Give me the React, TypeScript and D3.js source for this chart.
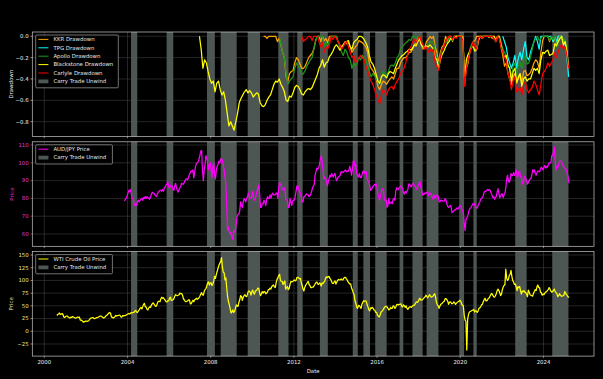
import React from "react";
import * as d3 from "d3";

const W = 603;
const H = 379;

// ---------- data ----------
const yearTicks = [2000, 2004, 2008, 2012, 2016, 2020, 2024];
const ddTicks = [0, -0.2, -0.4, -0.6, -0.8];
const audTicks = [60, 70, 80, 90, 100, 110];
const wtiTicks = [-25, 0, 25, 50, 75, 100, 125, 150];

// carry-trade unwind periods (decimal years)
const unwindStarts = [2004.17, 2005.88, 2007.82, 2008.48, 2009.78, 2011.25, 2012.16, 2013.25, 2014.83, 2015.34, 2015.91, 2017.08, 2017.7, 2018.38, 2019.95, 2020.63, 2022.64, 2024.42];
const unwindEnds = [2004.47, 2006.2, 2008.2, 2009.25, 2010.37, 2011.74, 2012.42, 2013.63, 2015.07, 2015.66, 2016.46, 2017.26, 2018.19, 2018.95, 2020.18, 2020.79, 2023.19, 2025.2];

// WTI, two readings per month from Aug 2000
const wtiValues = [
  31,33, 34,36, 33,34, 35,33, 28,27,
  29,30, 30,28, 27,26, 28,27, 29,28, 27,26, 26,27, 28,27, 28,22, 22,21, 19,18, 19,20,
  20,19.5, 20,21.5, 24,26, 26,27, 27,25, 25,26, 27,27, 28,29, 30,30, 29,27, 26,27, 29,31,
  32,34, 36,37, 35,28, 28,26, 27,29, 31,30, 31,31, 32,31, 28,28, 31,30, 31,31, 32,33,
  34,35, 34,35, 37,36, 37,37, 40,41, 38,37, 40,42, 45,47, 44,48, 53,55, 48,48, 43,42,
  46,48, 47,51, 54,56, 54,51, 49,50, 55,59, 59,58, 64,67, 65,66, 63,61, 58,58, 60,60,
  65,67, 61,61, 62,64, 69,72, 71,70, 71,72, 75,74, 74,71, 64,62, 59,58, 59,60, 62,62,
  54,54, 58,61, 58,62, 63,65, 63,64, 66,69, 73,76, 72,71, 78,82, 84,89, 95,97, 91,95,
  95,90, 93,99, 108,104, 112,118, 124,130, 134,137, 145,126, 116,115, 101,105, 85,68, 58,52, 44,36,
  38,42, 37,39, 45,52, 50,49, 57,62, 70,69, 61,67, 70,72, 69,68, 73,79, 79,77, 71,78,
  81,75, 73,79, 80,82, 85,84, 75,70, 74,78, 75,78, 78,74, 75,77, 82,82, 85,83, 88,90,
  91,87, 86,95, 102,105, 110,112, 100,98, 98,92, 96,99, 83,86, 88,82, 84,92, 98,97, 98,99,
  101,99, 100,106, 106,105, 103,104, 96,90, 83,79, 86,90, 93,96, 98,92, 90,86, 86,87, 87,90,
  93,96, 97,93, 92,95, 94,89, 95,94, 96,98, 104,107, 106,107, 108,104, 102,98, 94,94, 97,99,
  93,97, 100,102, 101,101, 103,101, 101,104, 106,106, 103,101, 97,95, 93,93, 85,81, 76,72, 60,55,
  47,45, 51,50, 48,45, 53,57, 60,59, 60,59, 52,48, 42,40, 46,45, 47,45, 42,41, 37,37,
  31,30, 28,32, 38,39, 41,44, 47,49, 49,48, 45,42, 43,47, 45,45, 50,49, 45,47, 52,53,
  52,53, 53,54, 49,48, 52,50, 47,50, 45,43, 46,48, 48,47, 49,51, 51,52, 56,58, 57,59,
  63,65, 61,62, 62,65, 66,68, 71,68, 66,69, 72,69, 67,68, 69,72, 74,67, 57,52, 50,45,
  50,53, 54,56, 58,59, 64,64, 62,59, 53,57, 58,56, 54,55, 58,56, 53,55, 57,58, 59,61,
  59,54, 51,50, 32,22, 20,-37, 24,33, 38,39, 40,41, 42,43, 38,40, 40,37, 40,45, 46,48,
  52,53, 58,62, 65,60, 60,62, 65,66, 70,73, 74,71, 68,67, 70,74, 80,83, 80,76, 70,73,
  82,87, 90,92, 122,105, 100,102, 110,112, 120,108, 100,97, 92,93, 87,80, 88,86, 88,80, 73,79,
  78,80, 77,76, 73,68, 81,77, 72,71, 70,69, 75,78, 82,80, 88,91, 86,86, 77,76, 71,73,
  72,75, 77,78, 80,82, 86,83, 79,77, 78,81, 83,78, 76,74, 68,70, 74,71, 69,69, 70,71,
  78,75, 72,70, 67,68,
];

// AUD/JPY, two readings per month from Nov 2003
const audValues = [
  78.5,79.5, 80,81,
  83,84.5, 84,85, 82,80, 80,77, 76,77, 76,78, 79,78, 79,79.5, 80,79, 80.5,80, 81,80, 81,80.5,
  80,79.5, 81,82, 83.5,83, 83,82, 81.5,81, 82.5,83.5, 84,84.5, 84.5,84, 85,84, 86,86.5, 87.5,88, 89.5,86.5,
  86,87.5, 87,86.5, 85,84.5, 87,88.5, 86,84.5, 83.5,85, 86,87, 88.5,88, 88,89, 90,91, 91,90.5, 92,93.5,
  94.5,95.5, 95,96, 91.5,94.5, 98,99.5, 100,100.5, 102,104, 106.5,107, 96,90, 96,99, 104,103, 100,96, 99,100,
  96,92, 98,100, 93,91, 96,98, 99,101, 100,102, 102.5,101, 99,96, 92,88, 76,62, 64,61, 60,61,
  58,57, 62,61, 62,66, 70,71, 71,73, 78,76, 75,78, 80,79, 78,80, 81,83, 81,80, 80,81,
  84,80, 79,80, 82,84, 86,87.5, 82,75, 75,77, 77,79, 78,76, 79,81, 80,80, 82,80, 82,83,
  82,82, 82,83, 83,80, 86,89, 88,87, 85,85, 85.5,86, 80,79, 79,75, 75,80, 78,76, 78.5,79,
  79,81, 84,87, 87,85, 84,83, 81,78, 78,81, 81,82, 82.5,82, 82,81, 81.5,82.5, 84,86, 87,88,
  93,95, 97,96.5, 97,99, 102,104, 101,97, 91,92, 91,90, 87,89, 91,93, 92,94, 93,92, 93.5,94,
  91,90, 91.5,92, 92.5,93, 95,95, 94.5,95, 95.5,96, 95,95.5, 95,96, 98,96, 93,96, 101,101, 98,99,
  94,93, 92,94, 92,91.5, 93,95, 95.5,94, 95,95, 91,90, 89.5,87, 84.5,85, 86,87, 87.5,88, 87,88,
  83,82, 79,80, 83,85, 85.5,84, 79,79, 79,75, 76,80, 77,77.5, 78,77, 79.5,80, 79,84, 86,85.5,
  85,86, 86.5,87, 86,85.5, 83,82.5, 84,83, 84,85, 88,88, 87,86.5, 88,88.5, 87.5,87, 86,85, 86,87.5,
  88.5,89.5, 86,84.5, 82,82, 83,82.5, 83.5,83, 83.5,81.5, 82.5,83, 82,80.5, 79.5,82, 80.5,80, 81.5,82, 81,78.5,
  78,79, 79,78.5, 78.5,78.5, 80,79, 77,75.5, 75,75.5, 76,75, 72,72.5, 73,73.5, 73.5,74.5, 74.5,74, 75,76,
  76,74, 73.5,72, 66,62, 68,69, 70,72, 74,74.5, 75,76, 77,76.5, 77,75, 75,74.5, 76,77, 78,79.5,
  80,80.5, 81.5,83.5, 84,84, 84.5,85, 84.5,85, 84.5,83, 82,80.5, 81,79.5, 80.5,81, 83.5,85.5, 83,80.5, 81,82.5,
  82.5,80.5, 82,83, 86,91, 93,90, 89,90.5, 94,93, 93,94.5, 93,94, 96,92, 92.5,95, 95,92, 92,88,
  89,91, 92.5,91, 90,88, 89,90, 91,91, 93,96, 95,96, 94,93, 94.5,95.5, 95,95, 96.5,97.5, 97,96,
  97.5,98.5, 97,98, 97.5,99, 100,100, 100,104, 104,106, 109,101, 96,98, 97.5,99, 101,101, 101,99.5, 98.5,97.5,
  97,96.5, 96,94, 92,88.5,
];

// drawdowns, one reading per month
const bxDrawdown = [ // from Jun 2007
  0, -0.12, -0.3, -0.22, -0.25, -0.33, -0.4,
  -0.44, -0.42, -0.52, -0.44, -0.42, -0.5, -0.55, -0.52, -0.6, -0.72, -0.84, -0.8,
  -0.84, -0.88, -0.8, -0.72, -0.62, -0.58, -0.55, -0.52, -0.5, -0.53, -0.51, -0.53,
  -0.57, -0.55, -0.53, -0.54, -0.62, -0.65, -0.66, -0.64, -0.6, -0.57, -0.55, -0.5,
  -0.45, -0.42, -0.43, -0.4, -0.45, -0.48, -0.52, -0.6, -0.61, -0.56, -0.57, -0.53,
  -0.48, -0.46, -0.47, -0.5, -0.54, -0.55, -0.52, -0.5, -0.49, -0.5, -0.48, -0.44,
  -0.4, -0.36, -0.3, -0.27, -0.22, -0.29, -0.25, -0.24, -0.19, -0.17, -0.14, -0.1,
  -0.08, -0.1, -0.13, -0.1, -0.08, -0.06, -0.05, -0.04, -0.1, -0.12, -0.06, -0.04,
  -0.03, 0, 0, -0.01, -0.03, -0.06, -0.1, -0.18, -0.24, -0.26, -0.3, -0.36,
  -0.42, -0.44, -0.38, -0.36, -0.37, -0.39, -0.35, -0.33, -0.34, -0.35, -0.3, -0.26,
  -0.22, -0.2, -0.18, -0.17, -0.15, -0.14, -0.12, -0.13, -0.11, -0.08, -0.09, -0.05,
  -0.02, -0.08, -0.1, -0.11, -0.09, -0.1, -0.08, -0.1, -0.12, -0.2, -0.22, -0.3,
  -0.22, -0.17, -0.14, -0.1, -0.07, -0.05, -0.02, -0.03, -0.01, 0, 0, 0,
  0, -0.02, -0.4, -0.22, -0.17, -0.14, -0.1, -0.1, -0.14, -0.12, -0.04, 0,
  -0.02, 0, 0, 0, -0.01, 0, 0, 0, -0.04, 0, 0, -0.08,
  -0.15, -0.2, -0.18, -0.27, -0.3, -0.42, -0.33, -0.3, -0.44, -0.38, -0.35, -0.47,
  -0.4, -0.38, -0.42, -0.4, -0.4, -0.35, -0.3, -0.32, -0.3, -0.35, -0.22, -0.15,
  -0.16, -0.14, -0.13, -0.18, -0.17, -0.16, -0.07, -0.09, -0.05, -0.02, 0, -0.08,
  -0.05, -0.14, -0.3,
];

const kkrDrawdown = [ // from Jul 2010
  0, 0, -0.02, 0, 0, 0,
  0, 0, -0.05, -0.02, -0.08, -0.15, -0.2, -0.38, -0.42, -0.35, -0.33, -0.32,
  -0.25, -0.2, -0.22, -0.26, -0.3, -0.3, -0.28, -0.24, -0.2, -0.18, -0.16, -0.12,
  -0.04, 0, 0, -0.05, 0, -0.04, -0.02, -0.06, 0, 0, 0, 0,
  0, -0.05, -0.08, -0.1, -0.08, -0.05, -0.07, -0.06, -0.1, -0.15, -0.12, -0.1,
  -0.08, -0.04, -0.05, -0.06, -0.08, -0.1, -0.15, -0.25, -0.3, -0.32, -0.35, -0.4,
  -0.47, -0.5, -0.45, -0.42, -0.43, -0.45, -0.42, -0.4, -0.38, -0.4, -0.35, -0.3,
  -0.3, -0.25, -0.22, -0.2, -0.2, -0.18, -0.15, -0.15, -0.12, -0.08, -0.06, -0.02,
  0, -0.08, -0.12, -0.1, -0.05, -0.03, 0, -0.02, 0, -0.1, -0.15, -0.25,
  -0.15, -0.1, -0.08, 0, -0.05, 0, 0, -0.05, 0, 0, 0, 0,
  0, 0, -0.45, -0.3, -0.25, -0.15, -0.08, -0.05, -0.04, 0, 0, 0,
  0, 0, 0, 0, 0, 0, -0.02, 0, -0.05, 0, 0, -0.1,
  -0.18, -0.28, -0.25, -0.35, -0.4, -0.45, -0.38, -0.35, -0.42, -0.4, -0.36, -0.44,
  -0.33, -0.32, -0.37, -0.36, -0.34, -0.3, -0.25, -0.22, -0.24, -0.3, -0.15, -0.04,
  0, 0, 0, -0.05, 0, -0.05, -0.02, -0.08, 0, 0, 0, -0.08,
  -0.05, -0.18, -0.3,
];

const apolloDrawdown = [ // from Apr 2011
  0, -0.08, -0.15, -0.2, -0.35, -0.45, -0.42, -0.4, -0.38,
  -0.3, -0.25, -0.28, -0.3, -0.36, -0.35, -0.32, -0.28, -0.25, -0.22, -0.2, -0.12,
  -0.05, 0, 0, 0, 0, -0.1, -0.05, -0.1, -0.04, 0, 0, 0,
  0, -0.05, -0.1, -0.15, -0.18, -0.12, -0.15, -0.2, -0.22, -0.3, -0.25, -0.28,
  -0.25, -0.2, -0.22, -0.18, -0.2, -0.22, -0.28, -0.33, -0.38, -0.35, -0.37, -0.4,
  -0.42, -0.45, -0.38, -0.33, -0.35, -0.37, -0.33, -0.28, -0.27, -0.28, -0.25, -0.2,
  -0.18, -0.12, -0.1, -0.08, -0.06, -0.05, -0.03, -0.04, 0, 0, -0.02, 0,
  0, -0.05, -0.1, -0.12, -0.1, -0.08, -0.05, -0.06, -0.05, -0.15, -0.2, -0.28,
  -0.18, -0.12, -0.1, -0.05, -0.06, -0.02, 0, -0.04, 0, 0, 0, 0,
  0, -0.02, -0.42, -0.28, -0.22, -0.12, -0.08, -0.06, -0.1, -0.12, -0.03, 0,
  0, 0, 0, 0, 0, 0, 0, -0.03, -0.05, 0, 0, -0.05,
  -0.12, -0.15, -0.18, -0.28, -0.3, -0.38, -0.28, -0.25, -0.36, -0.28, -0.24, -0.3,
  -0.22, -0.18, -0.26, -0.25, -0.2, -0.12, -0.05, -0.02, 0, -0.04, -0.02, 0,
  0, 0, 0, -0.04, 0, -0.03, 0, -0.1, -0.05, 0, 0, -0.06,
  -0.02, -0.15, -0.3,
];

const carlyleDrawdown = [ // from May 2012
  0, -0.05, -0.03, -0.02, 0, 0, -0.04, 0,
  0, 0, -0.05, -0.1, -0.06, -0.15, -0.1, -0.12, -0.08, 0, -0.03, 0,
  -0.02, -0.05, -0.08, -0.12, -0.1, -0.06, -0.05, -0.1, -0.15, -0.2, -0.18, -0.25,
  -0.22, -0.2, -0.18, -0.2, -0.22, -0.28, -0.32, -0.38, -0.42, -0.45, -0.5, -0.55,
  -0.6, -0.63, -0.55, -0.5, -0.52, -0.55, -0.5, -0.48, -0.47, -0.5, -0.45, -0.42,
  -0.4, -0.35, -0.33, -0.3, -0.25, -0.18, -0.12, -0.1, -0.05, -0.03, -0.06, -0.03,
  0, -0.05, -0.08, -0.12, -0.1, -0.15, -0.12, -0.15, -0.12, -0.25, -0.28, -0.32,
  -0.2, -0.12, -0.1, -0.05, -0.02, 0, 0, -0.03, 0, -0.02, 0, 0,
  0, -0.04, -0.47, -0.3, -0.22, -0.15, -0.1, -0.05, -0.1, -0.12, -0.02, 0,
  -0.02, 0, 0, 0, 0, 0, 0, -0.02, -0.05, 0, -0.02, -0.1,
  -0.15, -0.2, -0.22, -0.35, -0.4, -0.5, -0.42, -0.38, -0.52, -0.5, -0.48, -0.55,
  -0.45, -0.43, -0.5, -0.53, -0.5, -0.48, -0.42, -0.45, -0.5, -0.55, -0.45, -0.35,
  -0.33, -0.3, -0.25, -0.28, -0.25, -0.22, -0.15, -0.2, -0.15, -0.1, -0.08, -0.12,
  -0.1, -0.18, -0.3,
];

const tpgDrawdown = [ // from Jan 2022
  0, -0.05, -0.1, -0.2, -0.25, -0.3, -0.25, -0.18, -0.3, -0.2, -0.15, -0.22,
  -0.12, -0.05, -0.2, -0.22, -0.15, -0.1, -0.05, 0, -0.05, -0.12, 0, 0,
  0, 0, 0, 0, 0, -0.05, 0, -0.05, 0, 0, 0, -0.05,
  -0.05, -0.2, -0.38,
];

// ---------- helpers ----------
type Pt = { t: number; v: number };
const toSeries = (vals: number[], y0: number, m0: number, perMonth: number): Pt[] =>
  vals.map((v, i) => ({ t: y0 + (m0 + (i + 0.5) / perMonth) / 12, v }));

const AX_L = 32.3;
const AX_R = 594;
const AX_H = 104.5;
const TOPS = [32, 141.8, 251.6];
const FONT = "DejaVu Sans, Liberation Sans, sans-serif";
const FS = 5.4;
const BAND = "#4e5653";
const GRID = "#3e3e3e";
const SPINE = "#c8c8c8";
const LW = 1.25;

const x = d3.scaleLinear().domain([1999.423, 2026.428]).range([AX_L, AX_R]);

type LineSpec = { name: string; color: string; data: Pt[] };
type PanelSpec = {
  top: number;
  domain: [number, number];
  ticks: number[];
  fmt: (v: number) => string;
  tickColor: string;
  ylabel: string;
  ylabelX: number;
  lines: LineSpec[];
  legendW: number;
  showX: boolean;
};

const fmtMinus = (s: string) => s.replace("-", "\u2212");

function Panel({ p }: { p: PanelSpec }) {
  const y = d3.scaleLinear().domain(p.domain).range([p.top + AX_H, p.top]);
  const line = d3
    .line<Pt>()
    .x((d) => x(d.t))
    .y((d) => y(d.v));
  const bottom = p.top + AX_H;
  const clipId = `clip${Math.round(p.top)}`;
  const rows = p.lines.length + 1;
  const lx = AX_L + 3.4;
  const ly = p.top + 3;
  const rowH = 8.4;
  const lh = rows * rowH + 2.4;
  return (
    <g>
      <defs>
        <clipPath id={clipId}>
          <rect x={AX_L} y={p.top} width={AX_R - AX_L} height={AX_H} />
        </clipPath>
      </defs>
      {/* grid */}
      {yearTicks.map((t) => (
        <line key={"gx" + t} x1={x(t)} x2={x(t)} y1={p.top} y2={bottom} stroke={GRID} strokeWidth={0.6} />
      ))}
      {p.ticks.map((t) => (
        <line key={"gy" + t} x1={AX_L} x2={AX_R} y1={y(t)} y2={y(t)} stroke={GRID} strokeWidth={0.6} />
      ))}
      {/* bands */}
      {unwindStarts.map((s, i) => (
        <rect key={"b" + i} x={x(s)} y={p.top} width={x(unwindEnds[i]) - x(s)} height={AX_H} fill={BAND} />
      ))}
      {/* lines */}
      <g clipPath={`url(#${clipId})`}>
        {p.lines.map((l) => (
          <path key={l.name} d={line(l.data) || ""} fill="none" stroke={l.color} strokeWidth={LW} strokeLinejoin="round" />
        ))}
      </g>
      {/* frame */}
      <rect x={AX_L} y={p.top} width={AX_R - AX_L} height={AX_H} fill="none" stroke={SPINE} strokeWidth={0.7} />
      {/* y ticks */}
      {p.ticks.map((t) => (
        <g key={"yt" + t}>
          <line x1={AX_L - 1.8} x2={AX_L} y1={y(t)} y2={y(t)} stroke={p.tickColor} strokeWidth={0.6} />
          <text x={AX_L - 3.6} y={y(t)} dy="0.35em" textAnchor="end" fontSize={FS} fontFamily={FONT} fill={p.tickColor}>
            {p.fmt(t)}
          </text>
        </g>
      ))}
      {/* x ticks */}
      {yearTicks.map((t) => (
        <g key={"xt" + t}>
          <line x1={x(t)} x2={x(t)} y1={bottom} y2={bottom + 1.8} stroke={SPINE} strokeWidth={0.6} />
          {p.showX && (
            <text x={x(t)} y={bottom + 8.3} textAnchor="middle" fontSize={FS} fontFamily={FONT} fill="#eeeeee">
              {t}
            </text>
          )}
        </g>
      ))}
      {/* y label */}
      <text
        transform={`translate(${p.ylabelX},${p.top + AX_H / 2}) rotate(-90)`}
        textAnchor="middle"
        fontSize={FS}
        fontFamily={FONT}
        fill={p.tickColor}
      >
        {p.ylabel}
      </text>
      {/* legend */}
      <rect x={lx} y={ly} width={p.legendW} height={lh} rx={1} fill="#000" fillOpacity={0.8} stroke="#bdbdbd" strokeWidth={0.6} />
      {p.lines.map((l, i) => {
        const cy = ly + 4.4 + i * rowH;
        return (
          <g key={"lg" + l.name}>
            <line x1={lx + 2.7} x2={lx + 12.7} y1={cy} y2={cy} stroke={l.color} strokeWidth={1} />
            <text x={lx + 17.7} y={cy} dy="0.35em" fontSize={FS} fontFamily={FONT} fill="#e6e6e6">
              {l.name}
            </text>
          </g>
        );
      })}
      {(() => {
        const cy = ly + 4.4 + p.lines.length * rowH;
        return (
          <g>
            <rect x={lx + 2.7} y={cy - 1.9} width={10} height={3.8} fill={BAND} />
            <text x={lx + 17.7} y={cy} dy="0.35em" fontSize={FS} fontFamily={FONT} fill="#e6e6e6">
              Carry Trade Unwind
            </text>
          </g>
        );
      })()}
    </g>
  );
}

export default function App() {
  const panels: PanelSpec[] = [
    {
      top: TOPS[0],
      domain: [-0.939, 0.04],
      ticks: ddTicks,
      fmt: (v) => fmtMinus(v.toFixed(1)),
      tickColor: "#eeeeee",
      ylabel: "Drawdown",
      ylabelX: 12.6,
      lines: [
        { name: "KKR Drawdown", color: "#ffa500", data: toSeries(kkrDrawdown, 2010, 6, 1) },
        { name: "TPG Drawdown", color: "#00ffff", data: toSeries(tpgDrawdown, 2022, 0, 1) },
        { name: "Apollo Drawdown", color: "#1e961e", data: toSeries(apolloDrawdown, 2011, 3, 1) },
        { name: "Blackstone Drawdown", color: "#ffff00", data: toSeries(bxDrawdown, 2007, 5, 1) },
        { name: "Carlyle Drawdown", color: "#ff0000", data: toSeries(carlyleDrawdown, 2012, 4, 1) },
      ],
      legendW: 82.6,
      showX: false,
    },
    {
      top: TOPS[1],
      domain: [53.1, 111.8],
      ticks: audTicks,
      fmt: (v) => String(v),
      tickColor: "#dc3cdc",
      ylabel: "Price",
      ylabelX: 14.2,
      lines: [{ name: "AUD/JPY Price", color: "#ff00ff", data: toSeries(audValues, 2003, 10, 2) }],
      legendW: 76.7,
      showX: false,
    },
    {
      top: TOPS[2],
      domain: [-48.8, 156.7],
      ticks: wtiTicks,
      fmt: (v) => fmtMinus(String(v)),
      tickColor: "#e6e690",
      ylabel: "Price",
      ylabelX: 13.3,
      lines: [{ name: "WTI Crude Oil Price", color: "#ffff00", data: toSeries(wtiValues, 2000, 7, 2) }],
      legendW: 76.7,
      showX: true,
    },
  ];
  return (
    <svg width={W} height={H} style={{ position: "absolute", left: 0, top: 0, display: "block" }}>
      <rect x={0} y={0} width={W} height={H} fill="#000" />
      {panels.map((p, i) => (
        <Panel key={i} p={p} />
      ))}
      <text x={(AX_L + AX_R) / 2} y={372.8} textAnchor="middle" fontSize={FS} fontFamily={FONT} fill="#eeeeee">
        Date
      </text>
    </svg>
  );
}
